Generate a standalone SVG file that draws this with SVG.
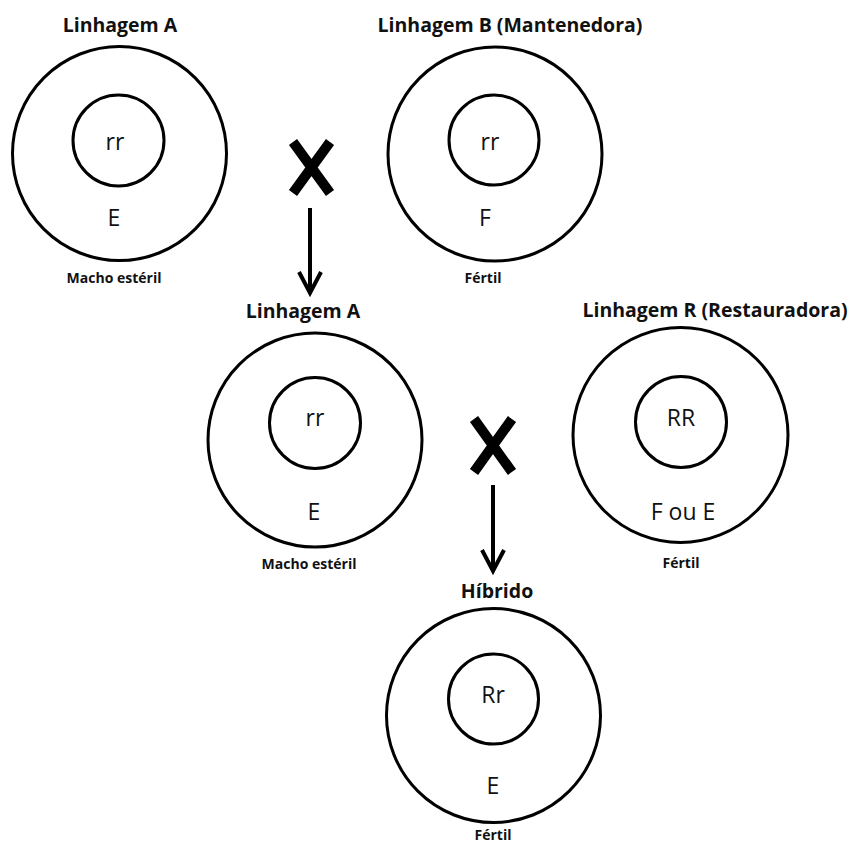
<svg xmlns="http://www.w3.org/2000/svg" width="855" height="845" viewBox="0 0 855 845">
<style>
.outer,.inner{fill:none;stroke:#000;stroke-width:3}
.title{font-family:"Open Sans","Liberation Sans",sans-serif;font-weight:bold;font-size:19.5px;text-anchor:middle;fill:#111}
.sub{font-family:"Open Sans","Liberation Sans",sans-serif;font-weight:bold;font-size:14px;text-anchor:middle;fill:#111}
.geno{font-family:"Open Sans","Liberation Sans",sans-serif;font-size:23px;text-anchor:middle;fill:#111}
.cross{stroke:#000;stroke-width:10;fill:none}
.arrow{stroke:#000;stroke-width:4;fill:none}
</style>
<defs>
<marker id="head" markerUnits="userSpaceOnUse" markerWidth="30" markerHeight="30" refX="25" refY="15" orient="auto" viewBox="0 0 30 30">
<path d="M4,4 L25,15 L4,26" fill="none" stroke="#000" stroke-width="4"/>
</marker>
</defs>
<rect width="855" height="845" fill="#fff"/>
<g id="node-A1">
<text class="title" x="120" y="32">Linhagem A</text>
<circle class="outer" cx="119.5" cy="153.5" r="107"/>
<circle class="inner" cx="118.5" cy="140.5" r="45.5"/>
<text class="geno" x="115" y="150">rr</text>
<text class="geno" x="114" y="226">E</text>
<text class="sub" x="114" y="283">Macho estéril</text>
</g>
<g id="node-B">
<text class="title" x="510" y="32">Linhagem B (Mantenedora)</text>
<circle class="outer" cx="495" cy="154" r="107"/>
<circle class="inner" cx="494" cy="140" r="45"/>
<text class="geno" x="490" y="150">rr</text>
<text class="geno" x="485" y="226">F</text>
<text class="sub" x="483" y="283">Fértil</text>
</g>
<g id="node-A2">
<text class="title" x="303" y="318">Linhagem A</text>
<circle class="outer" cx="315" cy="440" r="107"/>
<circle class="inner" cx="315" cy="423" r="45.5"/>
<text class="geno" x="315" y="426">rr</text>
<text class="geno" x="314" y="520">E</text>
<text class="sub" x="309" y="569">Macho estéril</text>
</g>
<g id="node-R">
<text class="title" x="715" y="317">Linhagem R (Restauradora)</text>
<circle class="outer" cx="680.5" cy="435" r="107.5"/>
<circle class="inner" cx="681" cy="422" r="45.5"/>
<text class="geno" x="681" y="426">RR</text>
<text class="geno" x="683" y="520">F ou E</text>
<text class="sub" x="681" y="568">Fértil</text>
</g>
<g id="node-H">
<text class="title" x="497" y="598">Híbrido</text>
<circle class="outer" cx="493.5" cy="715.5" r="107"/>
<circle class="inner" cx="493.5" cy="699" r="45"/>
<text class="geno" x="493" y="703">Rr</text>
<text class="geno" x="493" y="794">E</text>
<text class="sub" x="493" y="840">Fértil</text>
</g>
<g id="connectors">
<path class="cross" d="M293,142 L330,193 M330,142 L293,193"/>
<line class="arrow" x1="310" y1="208" x2="310" y2="293" marker-end="url(#head)"/>
<path class="cross" d="M474,419 L512,472 M512,419 L474,472"/>
<line class="arrow" x1="493" y1="485" x2="493" y2="571" marker-end="url(#head)"/>
</g>
</svg>
